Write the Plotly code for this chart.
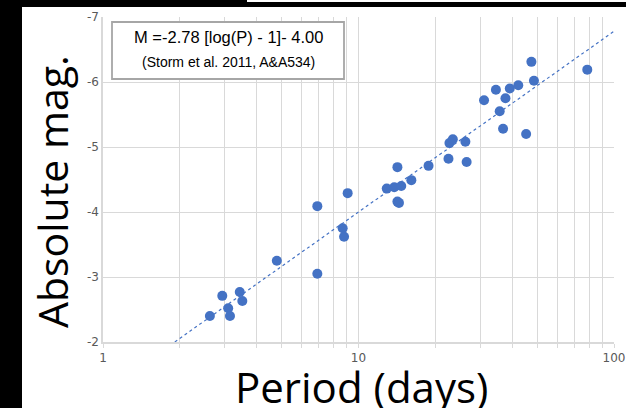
import plotly.graph_objects as go
import numpy as np

# Data: period (days) and absolute magnitude
period = [2.62, 2.93, 3.09, 3.14, 3.43, 3.51, 4.79, 6.90, 6.90, 8.67, 8.78, 9.07,
          12.9, 13.8, 14.2, 14.7, 14.2, 14.4, 16.1, 18.8, 22.5, 22.7, 23.4, 26.2,
          26.5, 31.0, 34.5, 35.7, 36.8, 37.6, 39.1, 42.2, 45.3, 47.5, 48.6, 78.6]
abs_mag = [-2.40, -2.71, -2.52, -2.40, -2.77, -2.63, -3.25, -4.09, -3.05, -3.75, -3.62, -4.29,
           -4.36, -4.38, -4.69, -4.40, -4.16, -4.14, -4.49, -4.71, -4.82, -5.06, -5.12, -5.08,
           -4.77, -5.72, -5.88, -5.55, -5.28, -5.75, -5.90, -5.95, -5.20, -6.31, -6.02, -6.19]

# Period-luminosity relation shown in the box
slope = -2.78
intercept = -4.00
trend_period = [1.91, 100]
trend_mag = [slope * (np.log10(p) - 1) + intercept for p in trend_period]

x_tickvals = [1, 2, 3, 4, 5, 6, 7, 8, 9, 10, 20, 30, 40, 50, 60, 70, 80, 90, 100]
x_ticktext = ["1", "", "", "", "", "", "", "", "", "10", "", "", "", "", "", "", "", "", "100"]
y_tickvals = [-7, -6, -5, -4, -3, -2]
y_ticktext = ["-7", "-6", "-5", "-4", "-3", "-2"]

BLUE = "#4472C4"
GRID = "#d9d9d9"

fig = go.Figure()
fig.add_trace(go.Scatter(x=trend_period, y=trend_mag, mode="lines",
                         line=dict(color=BLUE, width=1.2, dash="dot"),
                         hoverinfo="skip", showlegend=False))
fig.add_trace(go.Scatter(x=period, y=abs_mag, mode="markers",
                         marker=dict(color=BLUE, size=10, line=dict(width=0)),
                         showlegend=False))

W, H = 626, 408
L, R, T, B = 103, 12, 17, 66
pw, ph = W - L - R, H - T - B

def px(x):
    return (x - L) / pw

def py(y):
    return (H - B - y) / ph

fig.update_layout(
    width=W, height=H, autosize=False,
    margin=dict(l=L, r=R, t=T, b=B, pad=0, autoexpand=False),
    paper_bgcolor="white", plot_bgcolor="white",
    xaxis=dict(type="log", range=[0, 2], tickvals=x_tickvals, ticktext=x_ticktext,
               automargin=False,
               showgrid=True, gridcolor=GRID, gridwidth=1.3,
               showline=True, linecolor=GRID, linewidth=1.5, mirror=False,
               ticks="outside", ticklen=4, tickcolor=GRID, tickwidth=1.3,
               tickfont=dict(family="DejaVu Sans", size=12, color="#595959"),
               zeroline=False, fixedrange=True),
    yaxis=dict(range=[-2, -7], tickvals=y_tickvals, ticktext=y_ticktext,
               automargin=False,
               showgrid=True, gridcolor=GRID, gridwidth=1.3,
               showline=True, linecolor=GRID, linewidth=1.5,
               ticks="", tickfont=dict(family="DejaVu Sans", size=12, color="#595959"),
               zeroline=False, fixedrange=True),
    shapes=[
        # black frame strips
        dict(type="rect", xref="paper", yref="paper", x0=px(0), x1=px(22), y0=py(H), y1=py(0),
             fillcolor="black", line=dict(width=0), layer="above"),
        dict(type="rect", xref="paper", yref="paper", x0=px(0), x1=px(W), y0=py(7), y1=py(0),
             fillcolor="black", line=dict(width=0), layer="above"),
        dict(type="rect", xref="paper", yref="paper", x0=px(247), x1=px(W), y0=py(2), y1=py(0),
             fillcolor="white", line=dict(width=0), layer="above"),
        # equation box
        dict(type="rect", xref="paper", yref="paper", x0=px(112), x1=px(344), y0=py(79), y1=py(22),
             fillcolor="white", line=dict(color="#a6a6a6", width=1.8), layer="above"),
    ],
    annotations=[
        dict(text="M =-2.78 [log(P) - 1]- 4.00", xref="paper", yref="paper",
             x=px(228), y=py(37), showarrow=False, xanchor="center", yanchor="middle",
             font=dict(family="Liberation Sans", size=16.5, color="black")),
        dict(text="(Storm et al. 2011, A&A534)", xref="paper", yref="paper",
             x=px(228), y=py(62), showarrow=False, xanchor="center", yanchor="middle",
             font=dict(family="Liberation Sans", size=14, color="black")),
        dict(text="Absolute mag.", xref="paper", yref="paper", textangle=-90,
             x=px(52), y=py(192), showarrow=False, xanchor="center", yanchor="middle",
             font=dict(family="Open Sans", size=41, color="black")),
        dict(text="Period (days)", xref="paper", yref="paper",
             x=px(361), y=py(386), showarrow=False, xanchor="center", yanchor="middle",
             font=dict(family="Open Sans", size=42, color="black")),
    ],
)

fig.write_html("out.html")
